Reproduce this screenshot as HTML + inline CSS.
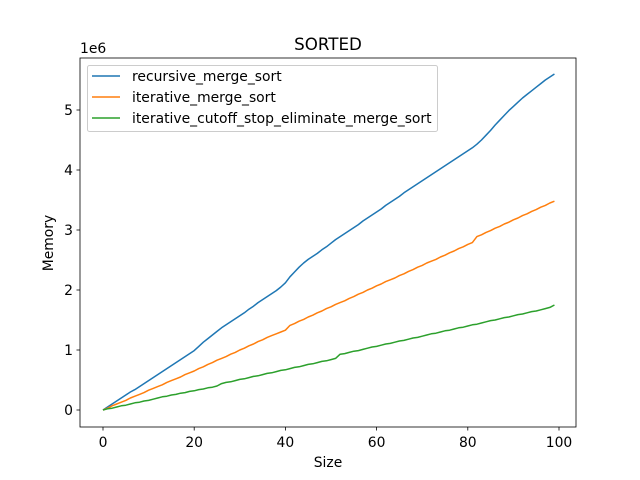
<!DOCTYPE html>
<html><head><meta charset="utf-8"><style>
body{margin:0;background:#fff}
svg{font-family:"DejaVu Sans","Liberation Sans",sans-serif;display:block}
</style></head><body>
<svg id="chart" width="640" height="480" viewBox="0 0 640 480"></svg>
<script>
const sizes = Array.from({length:100},(_, i)=>i);
const recursiveMerge = [0,.05,.10,.15,.20,.25,.30,.34,.39,.44,.49,.54,.59,.64,.69,.74,.79,.84,.89,.94,.99,
1.06,1.13,1.19,1.25,1.31,1.37,1.42,1.47,1.52,1.57,1.62,1.68,1.73,1.79,1.84,1.89,1.94,1.99,2.05,2.12,
2.22,2.30,2.38,2.45,2.51,2.56,2.61,2.67,2.72,2.78,2.84,2.89,2.94,2.99,3.04,3.09,3.15,3.20,3.25,3.30,3.35,3.41,3.46,3.51,3.56,3.62,3.67,3.72,3.77,3.82,3.87,3.92,3.97,4.02,4.07,4.12,4.17,4.22,4.27,4.32,4.37,
4.43,4.50,4.58,4.66,4.75,4.83,4.91,4.99,5.06,5.13,5.20,5.26,5.32,5.38,5.44,5.50,5.55,5.60];
const iterativeMerge = [0,.03,.07,.10,.13,.16,.20,.23,.26,.29,.33,.36,.39,.42,.46,.49,.52,.55,.59,.62,.65,
.69,.72,.76,.79,.83,.86,.89,.93,.96,1.00,1.03,1.07,1.10,1.14,1.17,1.21,1.24,1.27,1.30,1.33,
1.41,1.44,1.48,1.51,1.55,1.58,1.62,1.65,1.69,1.72,1.76,1.79,1.82,1.86,1.89,1.93,1.96,2.00,2.03,2.07,2.10,2.14,2.17,2.20,2.24,2.27,2.31,2.34,2.38,2.41,2.45,2.48,2.51,2.55,2.58,2.62,2.65,2.69,2.72,2.76,2.79,
2.89,2.92,2.96,2.99,3.03,3.06,3.10,3.13,3.17,3.20,3.24,3.27,3.31,3.34,3.38,3.41,3.45,3.48];
const cutoffMerge = [0,.02,.03,.05,.07,.08,.10,.12,.13,.15,.16,.18,.20,.22,.23,.25,.26,.28,.29,.31,.32,.34,.35,.37,.38,.40,
.44,.46,.47,.49,.51,.52,.54,.56,.57,.59,.61,.62,.64,.66,.67,.69,.71,.72,.74,.76,.77,.79,.81,.82,.84,.86,
.93,.94,.96,.98,.99,1.01,1.03,1.05,1.06,1.08,1.10,1.11,1.13,1.15,1.16,1.18,1.20,1.21,1.23,1.25,1.27,1.28,1.30,1.32,1.33,1.35,1.37,1.38,1.40,1.42,1.43,1.45,1.47,1.49,1.50,1.52,1.54,1.55,1.57,1.59,1.60,1.62,1.64,1.65,1.67,1.69,1.71,1.75];
const xTicks = [0,20,40,60,80,100];
const yTicks = [0,1,2,3,4,5];
const seriesNames = ["recursive_merge_sort","iterative_merge_sort","iterative_cutoff_stop_eliminate_merge_sort"];
const seriesColors = ["#1f77b4","#ff7f0e","#2ca02c"];

const NS="http://www.w3.org/2000/svg";
const svg=document.getElementById('chart');
const L=80,R=576,T=58,B=427;
const xs=v=>103+v*4.56;
const ys=v=>410-v*60;
function mk(tag,attrs,parent){const e=document.createElementNS(NS,tag);for(const k in attrs)e.setAttribute(k,attrs[k]);(parent||svg).appendChild(e);return e;}

const series=[recursiveMerge,iterativeMerge,cutoffMerge];
series.forEach((d,si)=>{
  const p=mk('polyline',{points:d.map((v,i)=>xs(sizes[i]).toFixed(2)+','+ys(v).toFixed(2)).join(' '),fill:'none',stroke:seriesColors[si],'stroke-width':1.5,'stroke-linejoin':'round'});
  
  
});
const frame=mk('rect',{x:L,y:T,width:R-L,height:B-T,fill:'none',stroke:'#000','stroke-width':0.8});


xTicks.forEach(t=>{
  mk('line',{x1:xs(t),x2:xs(t),y1:B,y2:B+3.5,stroke:'#000','stroke-width':0.8});
  const tx=mk('text',{x:xs(t),y:B+20,'font-size':13.9,'text-anchor':'middle'});tx.textContent=t;
  
  
});
yTicks.forEach(t=>{
  mk('line',{x1:L-3.5,x2:L,y1:ys(t),y2:ys(t),stroke:'#000','stroke-width':0.8});
  const tx=mk('text',{x:L-7,y:ys(t)+5,'font-size':13.9,'text-anchor':'end'});tx.textContent=t;
  
  
});
const ex=mk('text',{x:L,y:53,'font-size':13.9});ex.textContent='1e6';


const title=mk('text',{x:328,y:50,'font-size':16.7,'text-anchor':'middle'});title.textContent='SORTED';


const xl=mk('text',{x:328,y:467,'font-size':13.9,'text-anchor':'middle'});xl.textContent='Size';


const yl=mk('text',{x:53,y:243,'font-size':13.9,'text-anchor':'middle',transform:'rotate(-90 53 243)'});yl.textContent='Memory';


const lg=mk('g',{});


mk('rect',{x:87.5,y:65.5,width:350,height:66,rx:2,fill:'#fff','fill-opacity':0.8,stroke:'#ccc'},lg);
seriesNames.forEach((n,i)=>{
  const y=76+i*21;
  mk('line',{x1:92,x2:120,y1:y,y2:y,stroke:seriesColors[i],'stroke-width':1.5},lg);
  const t=mk('text',{x:132,y:y+5,'font-size':13.9},lg);t.textContent=n;
  
  
});
</script>
</body></html>
